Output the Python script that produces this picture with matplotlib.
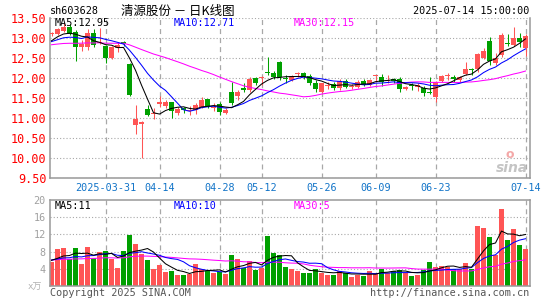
import numpy as np
import pandas as pd
import matplotlib
matplotlib.use("Agg")
import matplotlib.pyplot as plt

plt.rcParams['lines.scale_dashes'] = False
plt.rcParams['font.family'] = ['DejaVu Sans Mono', 'Noto Sans CJK SC']

W, H = 545, 300

# closes / volumes before the first visible day, only used to seed the moving averages
prior_close = [12.70, 12.85, 12.95, 12.80, 12.75, 12.90, 12.88, 12.76, 12.82, 12.78,
               12.86, 12.79, 12.80, 12.70, 12.68, 12.75, 12.82, 12.72, 12.78, 12.75,
               12.75, 12.80, 12.95, 12.85, 13.10, 12.72, 12.93, 13.00, 12.90]
prior_vol = [5.2, 6.8, 5.9, 6.3, 5.1, 6.6, 5.7, 6.0, 5.4, 6.9, 5.8, 6.2, 5.5, 6.1, 5.9,
             6.5, 5.8, 6.4, 6.7, 5.6, 6.2, 6.3, 5.9, 6.0, 6.1, 6.3, 6.1, 5.8, 6.0]

opens = [13.09, 13.10, 13.18, 13.28, 13.16, 12.78, 12.78, 13.12, 12.87, 12.80,
         12.49, 12.74, 12.91, 12.35, 10.83, 10.84, 11.22, 11.10, 11.35, 11.30,
         11.39, 11.12, 11.26, 11.17, 11.20, 11.28, 11.47, 11.25, 11.36, 11.13,
         11.66, 11.55, 11.75, 11.70, 11.99, 12.01, 12.14, 12.13, 12.41, 12.00,
         11.95, 12.10, 12.13, 12.05, 11.88, 11.66, 11.80, 11.84, 11.74, 11.93,
         11.77, 11.78, 11.93, 11.83, 12.04, 12.02, 11.93, 11.97, 11.97, 11.72,
         11.81, 11.78, 11.76, 11.64, 11.53, 11.92, 12.05, 12.02, 11.95, 12.10,
         12.21, 12.22, 12.49, 12.93, 12.37, 12.57, 12.88, 12.82, 12.99, 12.74]
closes = [13.10, 13.22, 13.28, 13.10, 12.78, 12.84, 13.12, 12.82, 12.90, 12.49,
          12.77, 12.82, 12.84, 11.57, 10.97, 10.91, 11.08, 11.13, 11.40, 11.41,
          11.18, 11.22, 11.19, 11.20, 11.32, 11.45, 11.30, 11.28, 11.14, 11.20,
          11.37, 11.66, 11.70, 11.97, 11.88, 12.03, 12.12, 12.02, 12.02, 11.97,
          12.05, 12.13, 12.03, 11.87, 11.72, 11.87, 11.83, 11.76, 11.93, 11.78,
          11.80, 11.91, 11.83, 11.95, 12.05, 11.90, 11.96, 11.93, 11.73, 11.77,
          11.79, 11.82, 11.62, 11.62, 11.91, 12.05, 12.08, 11.98, 12.02, 12.22,
          12.19, 12.60, 12.68, 12.43, 12.49, 13.08, 12.86, 12.99, 12.91, 13.05]
highs = [13.15, 13.25, 13.37, 13.35, 13.20, 12.95, 13.22, 13.22, 13.24, 12.82,
         12.80, 12.90, 12.93, 12.37, 11.33, 10.93, 11.32, 11.25, 11.55, 11.45,
         11.40, 11.28, 11.28, 11.29, 11.38, 11.52, 11.48, 11.38, 11.41, 11.24,
         11.91, 11.70, 11.87, 12.03, 12.03, 12.04, 12.52, 12.17, 12.43, 12.08,
         12.08, 12.14, 12.16, 12.10, 11.95, 11.88, 11.90, 11.90, 11.97, 11.97,
         11.86, 11.95, 11.97, 11.97, 12.06, 12.10, 12.07, 11.99, 12.02, 11.79,
         11.87, 11.87, 11.80, 12.02, 11.92, 12.08, 12.13, 12.08, 12.05, 12.41,
         12.26, 12.62, 12.74, 13.02, 12.62, 13.12, 13.10, 13.27, 13.12, 13.10]
lows = [13.05, 13.08, 13.15, 13.08, 12.43, 12.68, 12.70, 12.78, 12.84, 12.38,
        12.47, 12.66, 12.80, 11.55, 10.59, 10.00, 11.05, 10.98, 11.28, 11.24,
        11.01, 11.07, 11.13, 11.08, 11.11, 11.26, 11.25, 11.18, 11.07, 11.10,
        11.32, 11.45, 11.65, 11.66, 11.83, 11.82, 12.07, 11.97, 11.95, 11.88,
        11.92, 12.02, 11.98, 11.83, 11.66, 11.62, 11.72, 11.70, 11.70, 11.74,
        11.72, 11.74, 11.80, 11.80, 11.91, 11.80, 11.87, 11.87, 11.66, 11.70,
        11.70, 11.68, 11.55, 11.60, 11.41, 11.90, 11.96, 11.91, 11.91, 12.07,
        12.07, 12.16, 12.47, 12.33, 12.33, 12.53, 12.80, 12.80, 12.78, 12.55]
volumes = [5.68, 8.61, 8.85, 6.30, 8.85, 5.15, 9.08, 6.47, 7.99, 8.15,
           6.30, 4.30, 8.15, 11.92, 9.84, 7.53, 6.14, 4.06, 4.99, 3.14,
           3.60, 2.45, 2.61, 2.77, 5.15, 4.00, 3.46, 2.91, 3.23, 2.68,
           7.23, 6.30, 4.30, 5.84, 3.76, 4.30, 11.69, 7.76, 7.23, 4.46,
           4.00, 3.53, 3.07, 3.07, 4.00, 3.07, 2.61, 2.61, 3.53, 3.07,
           2.15, 2.61, 2.38, 3.53, 3.07, 4.00, 3.07, 3.53, 3.76, 3.07,
           2.38, 2.61, 3.76, 5.61, 4.46, 4.69, 4.46, 4.00, 4.00, 5.38,
           4.00, 14.00, 13.46, 11.39, 7.16, 17.85, 10.69, 13.23, 9.54, 8.61]

date_pos = [9, 18, 28, 35, 45, 54, 64, 79]
date_labels = ['2025-03-31', '04-14', '04-28', '05-12', '05-26', '06-09', '06-23', '07-14']
price_ticks = [9.5, 10.0, 10.5, 11.0, 11.5, 12.0, 12.5, 13.0, 13.5]
vol_ticks = [4, 8, 12, 16, 20]

RED = '#ff5555'
GREEN = '#00a000'
GRID = '#a8a8a8'
SPINE = '#999999'

n = len(closes)
x = np.arange(n)
o = np.array(opens)
c = np.array(closes)
up = c >= o
colors = np.where(up, RED, GREEN)

cs = pd.Series(prior_close + closes)
vs = pd.Series(prior_vol + volumes)
p = len(prior_close)
ma = {k: cs.rolling(k).mean().values[p:] for k in (5, 10, 30)}
vma = {k: vs.rolling(k).mean().values[p:] for k in (5, 10, 30)}

fig = plt.figure(figsize=(W / 100, H / 100), dpi=100)
ax = fig.add_axes([50 / W, 1 - 178 / H, 480 / W, 160 / H])
axv = fig.add_axes([50 / W, 1 - 286 / H, 480 / W, 86 / H])

xl = (-0.25, 79.75)

for a in (ax, axv):
    a.set_xlim(*xl)
    for d in date_pos:
        a.axvline(d, color=GRID, lw=0.9, ls=(0, (3.6, 2.9)), zorder=0)
    for s in a.spines.values():
        s.set_color(SPINE)
        s.set_linewidth(1.1)
    a.set_xticks(date_pos)
    a.tick_params(length=0)

# price panel
ax.set_ylim(9.5, 13.5)
for t in price_ticks:
    ax.axhline(t, color=GRID, lw=0.8, ls=(0, (0.8, 1.5)), zorder=0)
ax.spines['top'].set_visible(False)
ax.vlines(x, lows, highs, colors=colors, lw=0.75, zorder=2)
body_h = np.maximum(np.abs(c - o), 0.025)
ax.bar(x, body_h, bottom=np.minimum(o, c), width=0.72, color=colors, lw=0, zorder=3)
ax.plot(x, ma[30], color='#ff00ff', lw=0.75, zorder=4)
ax.plot(x, ma[10], color='#0000ff', lw=0.75, zorder=4)
ax.plot(x, ma[5], color='black', lw=0.75, zorder=4)
ax.set_yticks(price_ticks)
ax.set_yticklabels(['%.2f' % t for t in price_ticks], color='red', fontsize=8.5)
ax.set_xticklabels(date_labels, color='#1274c8', fontsize=7.3)
ax.tick_params(axis='x', pad=3.5)
ax.tick_params(axis='y', pad=2.5)

# volume panel
axv.set_ylim(0, 20)
for t in vol_ticks[:-1]:
    axv.axhline(t, color=GRID, lw=0.8, ls=(0, (0.8, 1.5)), zorder=0)
axv.bar(x, volumes, width=0.82, color=colors, lw=0, zorder=2)
axv.plot(x, vma[30], color='#ff00ff', lw=0.75, zorder=4)
axv.plot(x, vma[10], color='#0000ff', lw=0.75, zorder=4)
axv.plot(x, vma[5], color='black', lw=0.75, zorder=4)
axv.set_yticks(vol_ticks)
axv.set_yticklabels([str(t) for t in vol_ticks], color='#a0a0a0', fontsize=7.3)
axv.set_xticklabels([])
axv.tick_params(axis='y', pad=3)


def ftext(px, py, s, **kw):
    fig.text(px / W, 1 - py / H, s, va='center', **kw)


ftext(50, 11, 'sh603628', fontsize=7.3, color='black')
ftext(178, 11, '清源股份 － 日K线图', fontsize=9, ha='center',
      family=['Noto Sans CJK SC', 'DejaVu Sans'])
ftext(529, 11, '2025-07-14 15:00:00', fontsize=7.3, ha='right')
ftext(55, 23.5, 'MA5:12.95', fontsize=7.3, color='black')
ftext(174, 23.5, 'MA10:12.71', fontsize=7.3, color='#0000ff')
ftext(294, 23.5, 'MA30:12.15', fontsize=7.3, color='#ff00ff')
ftext(55, 206, 'MA5:11', fontsize=7.3, color='black')
ftext(174, 206, 'MA10:10', fontsize=7.3, color='#0000ff')
ftext(294, 206, 'MA30:5', fontsize=7.3, color='#ff00ff')
ftext(28, 287, 'x万', fontsize=6.5, color='#b0b0b0',
      family=['DejaVu Sans Mono', 'Noto Sans CJK SC'])
ftext(50, 292.5, 'Copyright 2025 SINA.COM', fontsize=7.3, color='#555555')
ftext(529, 292.5, 'http://finance.sina.com.cn', fontsize=7.3, color='#555555', ha='right')
ftext(512, 168, 'sina', fontsize=10, color='#c4c4c4', ha='center',
      fontweight='bold', fontstyle='italic', family='DejaVu Sans')
fig.text(510 / W, 1 - 154 / H, 'o', fontsize=9, color='#f4a8a8', ha='center', va='center',
         fontweight='bold', family='DejaVu Sans')

fig.savefig('out.png', dpi=100)
